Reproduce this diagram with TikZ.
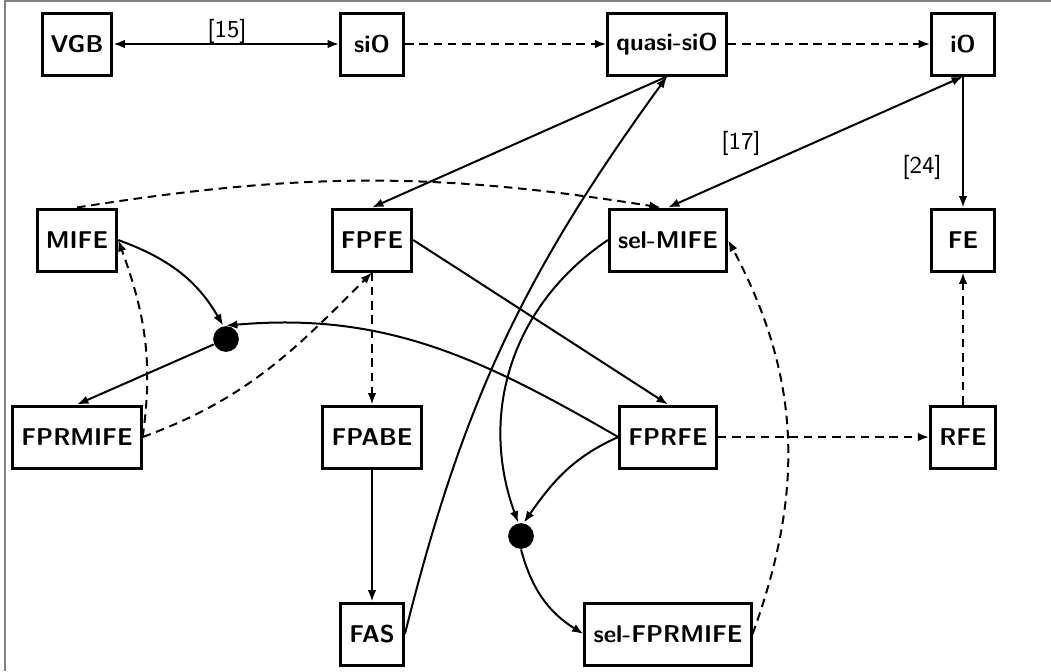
\documentclass[tikz,border=0pt]{standalone}
\usetikzlibrary{arrows.meta}
\begin{document}
\begin{tikzpicture}[x=0.35pt,y=-0.35pt,
  box/.style={draw, line width=1.05pt, minimum height=21.7pt, minimum width=22pt, inner xsep=3pt, font=\fontsize{8.5}{10}\selectfont\sffamily\bfseries},
  dot/.style={circle, fill=black, inner sep=0pt, minimum size=9pt},
  lbl/.style={font=\fontsize{8.5}{10}\selectfont\sffamily, inner sep=0pt},
  conn/.style={line width=0.7pt, -{Latex[length=4pt,width=3pt]}},
  both/.style={line width=0.7pt, {Latex[length=4pt,width=3pt]}-{Latex[length=4pt,width=3pt]}},
  dconn/.style={conn, dash pattern=on 3pt off 2pt}]
\useasboundingbox (0,0) rectangle (1051,671);
\draw[gray, line width=0.6pt] (5,671) -- (5,1) -- (1051,1);
% nodes
\node[box] (VGB) at (77,44) {VGB};
\node[box] (siO) at (372,44) {siO};
\node[box] (qsiO) at (667,44) {quasi-siO};
\node[box] (iO) at (963,44) {iO};
\node[box] (MIFE) at (77,240) {MIFE};
\node[box] (FPFE) at (372,240) {FPFE};
\node[box] (selMIFE) at (668,240) {sel-MIFE};
\node[box] (FE) at (963,240) {FE};
\node[box] (FPRMIFE) at (77,437) {FPRMIFE};
\node[box] (FPABE) at (372,437) {FPABE};
\node[box] (FPRFE) at (668,437) {FPRFE};
\node[box] (RFE) at (963,437) {RFE};
\node[box] (FAS) at (372,634) {FAS};
\node[box] (selFPRMIFE) at (668,634) {sel-FPRMIFE};
\node[dot] (d1) at (226,339) {};
\node[dot] (d2) at (521,536) {};
\node[lbl] (l15) at (227,31) {[15]};
\node[lbl] (l17) at (741,143) {[17]};
\node[lbl] (l24) at (922,167) {[24]};
% connectors
\draw[both] (VGB) -- (siO);
\draw[dconn] (siO) -- (qsiO);
\draw[dconn] (qsiO) -- (iO);
\draw[conn] (qsiO.south) -- (FPFE.north);
\draw[conn] (FAS.east) to[out=76, in=234] (qsiO.south);
\draw[both] (iO.south) -- (selMIFE.north);
\draw[conn] (iO.south) -- (FE.north);
\draw[dconn] (MIFE.north) to[bend left=9] ([xshift=-2.5pt]selMIFE.north);
\draw[conn] (MIFE.east) to[out=-20, in=120] ([xshift=-1pt]d1.north);
\draw[dconn] (FPRMIFE.east) to[out=82, in=-70] (MIFE.east);
\draw[dconn] (FPRMIFE.east) to[out=20, in=225] (FPFE.south);
\draw[conn] (d1) -- (FPRMIFE.north);
\draw[conn] (FPRFE.west) to[out=150, in=5] (d1.north);
\draw[conn] (FPFE.east) -- (FPRFE.north);
\draw[dconn] (FPFE) -- (FPABE);
\draw[conn] (FPABE) -- (FAS);
\draw[conn] (selMIFE.west) to[out=214, in=110] ([xshift=-1pt]d2.north);
\draw[conn] (FPRFE.west) to[out=204, in=55] ([xshift=1pt]d2.north);
\draw[conn] (d2.south) to[out=-75, in=148] (selFPRMIFE.west);
\draw[dconn] (selFPRMIFE.east) to[out=70, in=-62] (selMIFE.east);
\draw[dconn] (FPRFE) -- (RFE);
\draw[dconn] (RFE) -- (FE);
\end{tikzpicture}
\end{document}
